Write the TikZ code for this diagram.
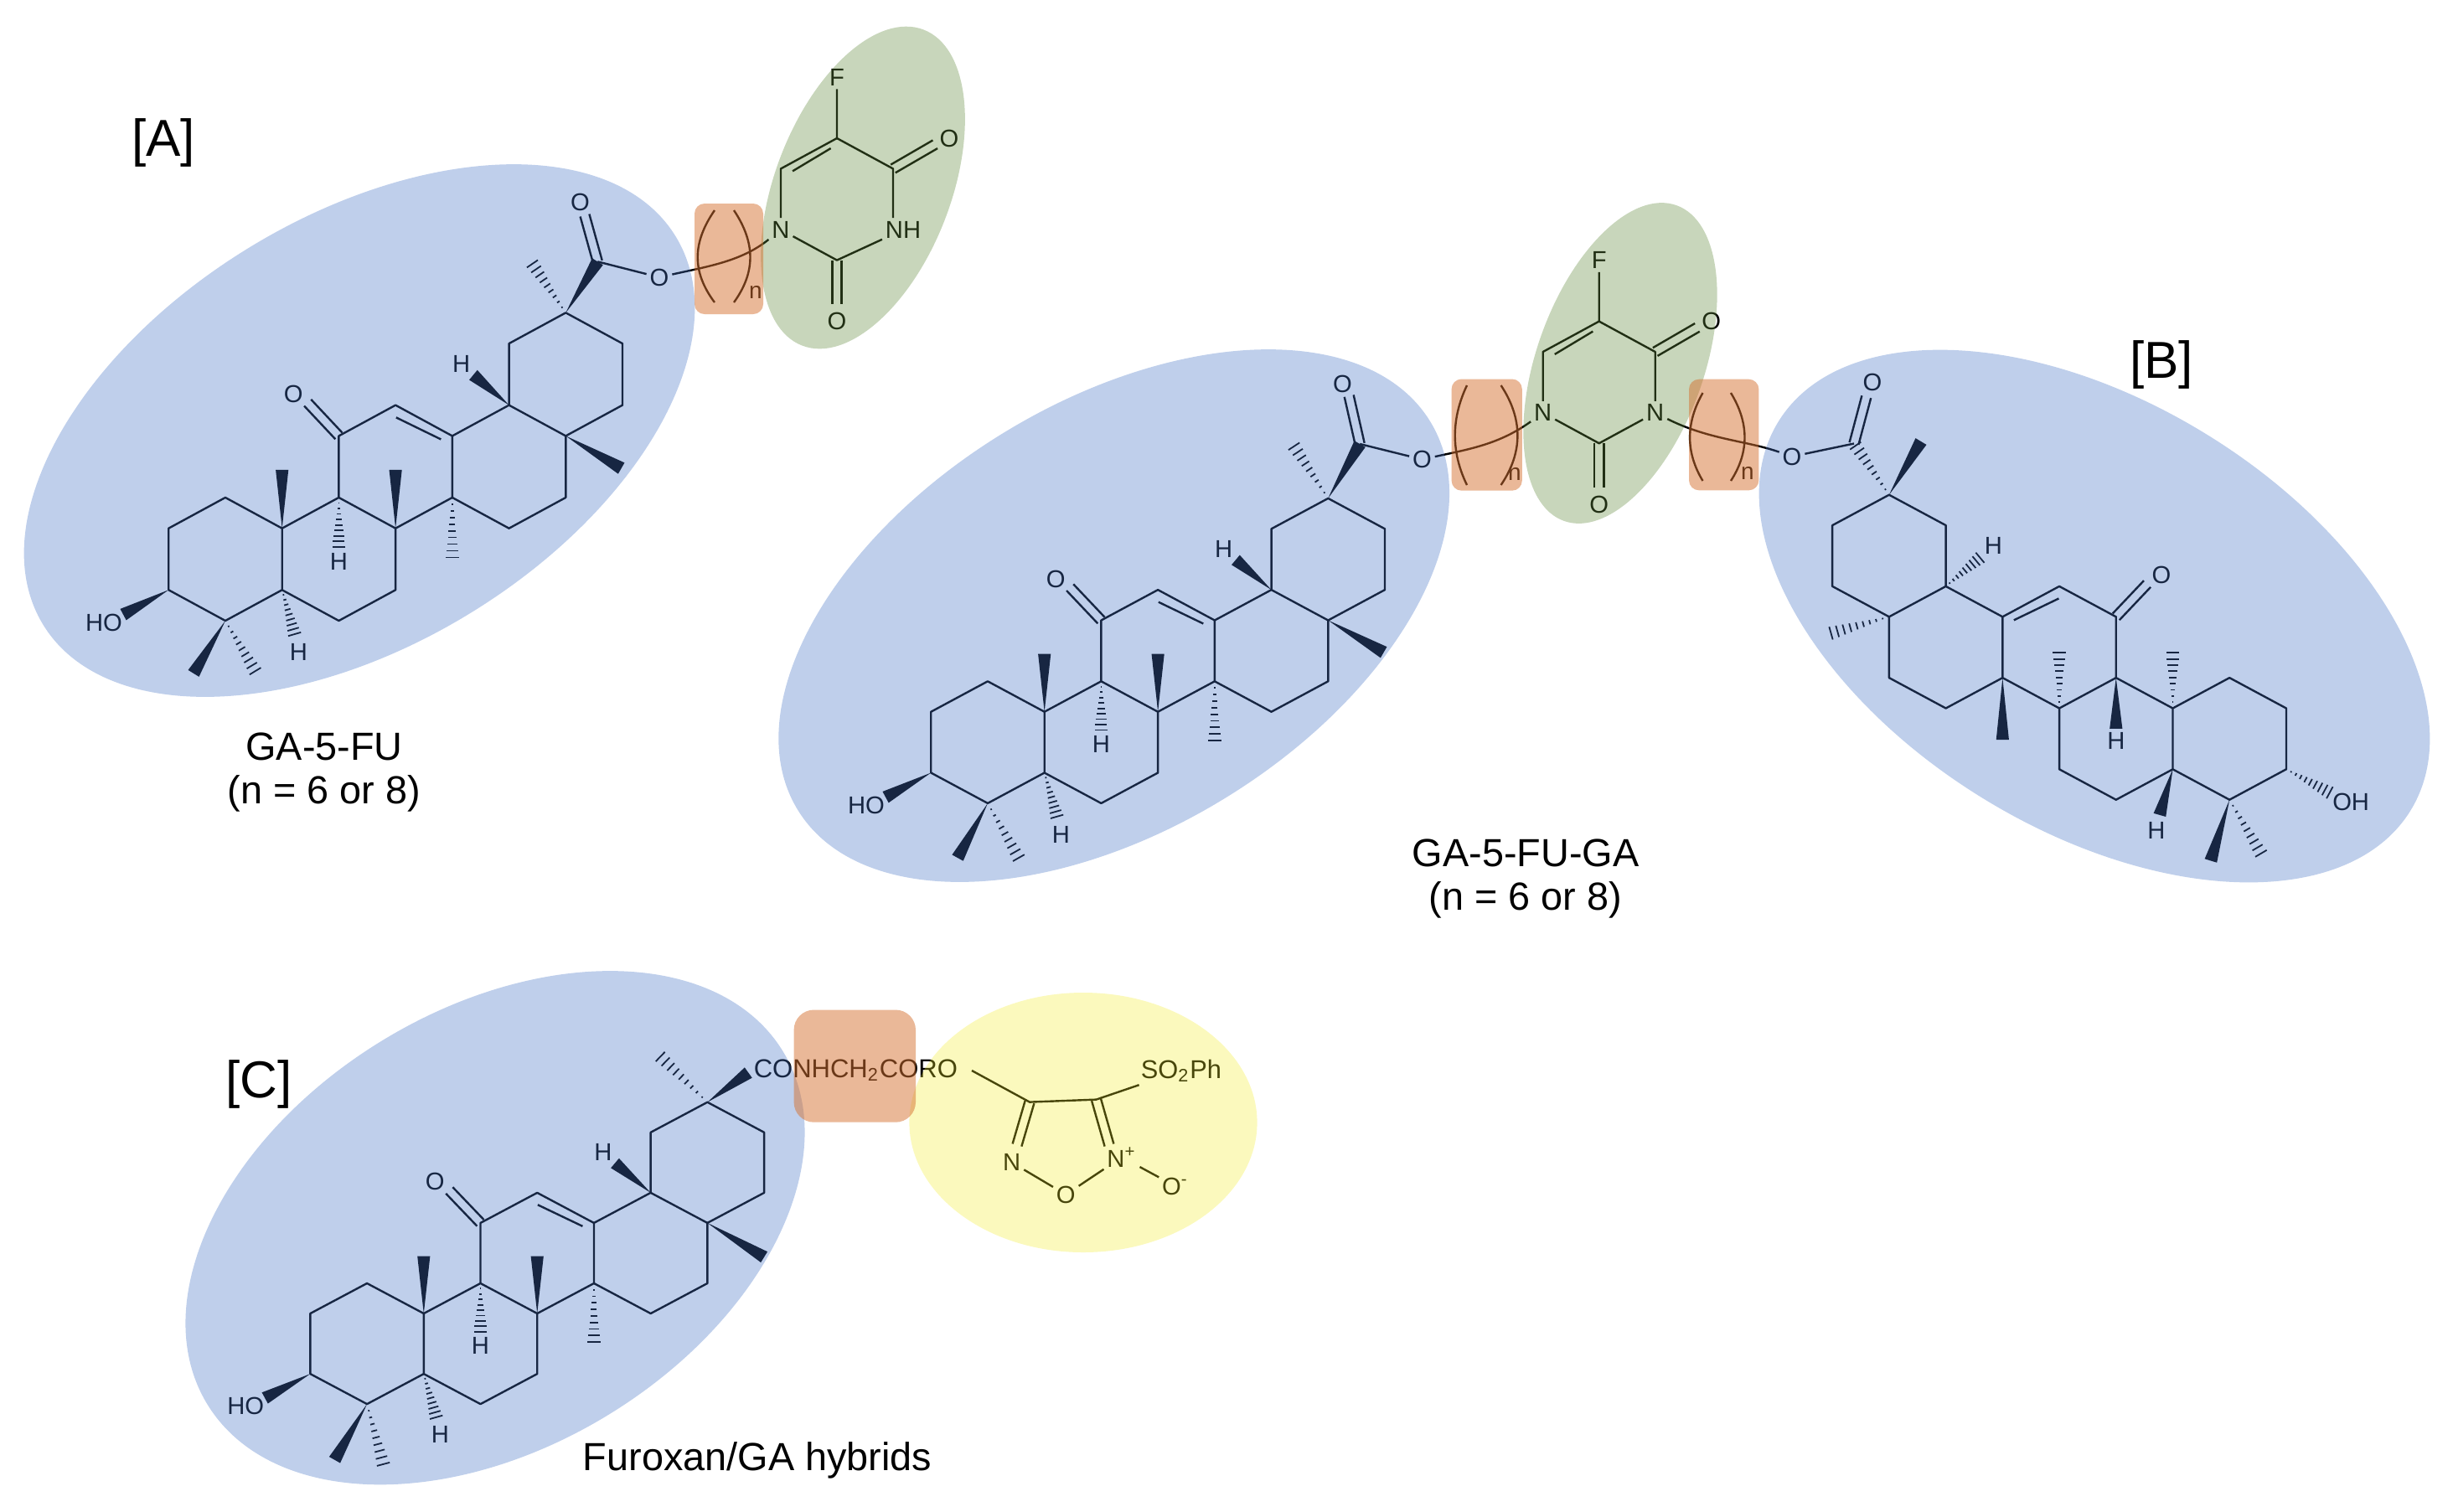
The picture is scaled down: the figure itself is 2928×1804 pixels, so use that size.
\documentclass[tikz,border=0pt]{standalone}
\usepackage{fontspec}
\setmainfont{Liberation Sans}
\usetikzlibrary{calc}
\definecolor{blueblob}{RGB}{68,114,196}
\definecolor{greenblob}{RGB}{97,137,60}
\definecolor{orangeblob}{RGB}{213,113,49}
\definecolor{yellowblob}{RGB}{241,235,38}
% wedge, hashed wedge and double bond
\newcommand{\solidb}[2]{\fill (#1) -- ($(#2)!1.9pt!90:(#1)$) -- ($(#2)!1.9pt!-90:(#1)$) -- cycle;}
\newcommand{\hashb}[2]{\foreach \hs [evaluate=\hs as \hw using \hs*0.22] in {1,...,9}
  \draw[line width=.45pt] ($(#1)!\hs/9.4!(#2)!\hw pt!90:(#2)$) -- ($(#1)!\hs/9.4!(#2)!\hw pt!-90:(#2)$);}
\newcommand{\dblb}[2]{\draw[bond] ($(#1)!1.4pt!90:(#2)$) -- ($(#2)!1.4pt!-90:(#1)$);
  \draw[bond] ($(#1)!1.4pt!-90:(#2)$) -- ($(#2)!1.4pt!90:(#1)$);}
% the five rings: prefix, place, scope options, up bond, down bond, hydroxyl,
% end of methyl on c17, ends of the two methyls on c4
\newcommand{\gacore}[9]{%
\begin{scope}[shift={(#2)},x=16.93pt,y=-9.1pt,#3]
\foreach \nm/\u/\v in {c10/0/0,c1/-1/-1,c2/-2/0,c3/-2/2,c4/-1/3,c5/0/2,c6/1/3,c7/2/2,c8/2/0,c9/1/-1,
  c11/1/-3,c12/2/-4,c13/3/-3,c14/3/-1,c15/4/0,c16/5/-1,c17/5/-3,c18/4/-4,c19/4/-6,c20/5/-7,c21/6/-6,c22/6/-4}
  \coordinate (#1\nm) at (\u,\v);
\draw[bond] (#1c10) -- (#1c1) -- (#1c2) -- (#1c3) -- (#1c4) -- (#1c5) -- cycle;
\draw[bond] (#1c10) -- (#1c9) -- (#1c8) -- (#1c7) -- (#1c6) -- (#1c5);
\draw[bond] (#1c9) -- (#1c11) -- (#1c12) -- (#1c13) -- (#1c14) -- (#1c8);
\draw[bond] (#1c13) -- (#1c18) -- (#1c17) -- (#1c16) -- (#1c15) -- (#1c14);
\draw[bond] (#1c18) -- (#1c19) -- (#1c20) -- (#1c21) -- (#1c22) -- (#1c17);
\draw[bond] (2.01,-3.6) -- (2.8,-2.89);
\coordinate (#1ket) at (.45,-4.08);
\dblb{#1c11}{#1ket}
\node[atom] (#1ko) at (.2,-4.36) {O};
#4{#1c10}{0,-1.9}
#4{#1c8}{2,-1.9}
#5{#1c14}{3,1.03}
#5{#1c9}{1,.67}
\node[atom] (#1h9) at (1,1.07) {H};
#5{#1c5}{.23,3.5}
\node[atom] (#1h5) at (.29,4.02) {H};
\solidb{#1c4}{#8}
\hashb{#1c4}{#9}
#4{#1c3}{-2.8,2.8}
\node[atom] (#1oh) at (-3.14,3.07) {#6};
#4{#1c18}{3.37,-4.98}
\node[atom] (#1h18) at (3.16,-5.34) {H};
#4{#1c17}{#7}
\end{scope}}
% fluorouracil: prefix, place, label and x of the second nitrogen
\newcommand{\fluoro}[4]{%
\begin{scope}[shift={(#2)},x=16.75pt,y=-9.1pt]
\foreach \nm/\u/\v in {c5/0/0,c6/-1/1,c4/1/1,c2/0/4,eo4/1.75/.2,eo2/0/5.45}
  \coordinate (#1\nm) at (\u,\v);
\node[atom] (#1f) at (0,-2) {F};
\node[atom] (#1n1) at (-1,3) {N};
\node[atom] (#1n3) at (#4,3) {#3};
\node[atom] (#1o4) at (2,0) {O};
\node[atom] (#1o2) at (0,6) {O};
\draw[bond] (#1f) -- (#1c5) -- (#1c4) -- (#1c4 |- #1n3.north);
\draw[bond] (#1c5) -- (#1c6) -- (#1n1) -- (#1c2) -- (#1n3);
\draw[bond] (-.79,1.08) -- (-.11,.33);
\dblb{#1c4}{#1eo4}
\dblb{#1c2}{#1eo2}
\end{scope}}
\begin{document}
\begin{tikzpicture}[x=0.25pt,y=-0.25pt]
\tikzstyle{bond}=[line width=.6pt,line join=round]
\tikzstyle{atom}=[inner sep=.8pt,font=\fontsize{7.3}{8}\selectfont]
\tikzstyle{small}=[inner sep=0pt,font=\fontsize{7}{8}\selectfont]
\tikzstyle{caption}=[align=center,font=\fontsize{11.7}{13}\selectfont]
\tikzstyle{tag}=[font=\fontsize{15.5}{18}\selectfont]
\tikzstyle{blueshape}=[fill=blueblob,fill opacity=.34]
\tikzstyle{greenshape}=[fill=greenblob,fill opacity=.35]
\tikzstyle{linkbox}=[fill=orangeblob,fill opacity=.5,rounded corners=3pt]
\useasboundingbox (0,0) rectangle (2928,1804);

% [A]
\gacore{a}{336.7,630.7}{yscale=1.01}{\solidb}{\hashb}{HO}{5.98,-1.95}{-1.56,4.71}{-.45,4.71}
\fluoro{a}{999,165}{NH}{1.18}
\coordinate (acoo) at (713.3,312.3);
\coordinate (aeo) at (698,257);
\node[atom] (ao) at (692.6,241.9) {O};
\node[atom] (aes) at (787,331) {O};
\solidb{ac20}{acoo}
\hashb{ac20}{633.7,312.3}
\dblb{acoo}{aeo}
\draw[bond] (acoo) -- (aes);
\draw[bond] (aes) .. controls (845,318) and (885,312) .. (an1);
\draw[bond] (853,251) .. controls (826,290) and (826,325) .. (853,361);
\draw[bond] (876,251) .. controls (902,290) and (902,325) .. (876,361);
\node[small] (an) at (902,349) {n};

% [B]
\gacore{b}{1246.7,849.7}{}{\solidb}{\hashb}{HO}{5.98,-1.95}{-1.53,4.79}{-.43,4.87}
\fluoro{f}{1908.7,383.6}{N}{1}
\gacore{r}{2593.5,845.5}{xscale=-1}{\hashb}{\solidb}{OH}{6.07,-2.44}{-.67,5}{-1.58,4.84}
\coordinate (bcoo) at (1623.2,530);
\coordinate (beo) at (1610.2,472.6);
\node[atom] (bo) at (1602.5,458.2) {O};
\node[atom] (bes) at (1697.4,548.4) {O};
\solidb{bc20}{bcoo}
\hashb{bc20}{1542.8,530}
\dblb{bcoo}{beo}
\draw[bond] (bcoo) -- (bes);
\draw[bond] (bes) .. controls (1755,536) and (1790,530) .. (fn1);
\draw[bond] (1751,460) .. controls (1732,500) and (1732,540) .. (1751,579);
\draw[bond] (1791.6,460) .. controls (1818,500) and (1818,540) .. (1791.6,579);
\node[small] (bn) at (1808,566) {n};
\coordinate (rcoo) at (2213,529.5);
\coordinate (reo) at (2227.8,473.7);
\node[atom] (ro) at (2235,456) {O};
\node[atom] (res) at (2139,545) {O};
\hashb{rc20}{rcoo}
\solidb{rc20}{2293,527}
\dblb{rcoo}{reo}
\draw[bond] (rcoo) -- (res);
\draw[bond] (fn3) .. controls (2040,525) and (2085,526) .. (res);
\draw[bond] (2032.5,469) .. controls (2012,505) and (2012,540) .. (2032.5,574);
\draw[bond] (2066,469) .. controls (2088,505) and (2088,540) .. (2066,574);
\node[small] (rn) at (2086,565) {n};

% [C]
\gacore{c}{505.8,1568}{yscale=.99}{\solidb}{\hashb}{HO}{6,-1.87}{-1.57,4.85}{-.7,5.08}
\solidb{cc20}{893.3,1280.5}
\hashb{cc20}{785.7,1259}
\node[atom,anchor=west,inner sep=0pt,font=\fontsize{7.75}{9}\selectfont] (clink) at (899,1278) {CONHCH\textsubscript{2}CORO};
\coordinate (fc3) at (1229,1315.6);
\coordinate (fc4) at (1308.5,1312.6);
\coordinate (fen) at (1214,1367);
\coordinate (fep) at (1324,1367);
\coordinate (fme) at (1160,1278);
\node[atom] (fn) at (1207.7,1387.7) {N};
\node[atom] (fp) at (1339,1381.4) {N\textsuperscript{+}};
\node[atom] (fo) at (1272.3,1426) {O};
\node[atom] (fm) at (1403,1416) {O\textsuperscript{-}};
\node[atom,font=\fontsize{7.7}{9}\selectfont] (fs) at (1410,1278) {SO\textsubscript{2}Ph};
\draw[bond] (fme) -- (fc3) -- (fc4) -- (fs);
\dblb{fc3}{fen}
\dblb{fc4}{fep}
\draw[bond] (fn) -- (fo) -- (fp);
\draw[bond] (fp) -- (fm);

% captions
\node[tag] (taga) at (195,170) {[A]};
\node[tag] (tagb) at (2580,435) {[B]};
\node[tag] (tagc) at (309,1294) {[C]};
\node[caption] (capa) at (387,922) {GA-5-FU\\(n = 6 or 8)};
\node[caption] (capb) at (1821,1049) {GA-5-FU-GA\\(n = 6 or 8)};
\node[caption] (capc) at (904,1743) {Furoxan/GA hybrids};

% coloured shapes on top of the formulas
\fill[blueshape,rotate around={31.6:(429,514)}] (429,514) ellipse [x radius=443,y radius=255];
\fill[blueshape,rotate around={31.6:(1329.7,735)}] (1329.7,735) ellipse [x radius=443,y radius=255];
\fill[blueshape,rotate around={-31.6:(2500,735.5)}] (2500,735.5) ellipse [x radius=443,y radius=255];
\fill[blueshape,rotate around={31.6:(591,1465.7)}] (591,1465.7) ellipse [x radius=403,y radius=261];
\fill[greenshape,rotate around={-21:(1030,224)}] (1030,224) ellipse [x radius=105,y radius=202];
\fill[greenshape,rotate around={-19.6:(1934,433.5)}] (1934,433.5) ellipse [x radius=100,y radius=200];
\fill[fill=yellowblob,fill opacity=.3] (1293,1340) ellipse [x radius=207.6,y radius=155];
\fill[linkbox] (829,243) rectangle (911,375);
\fill[linkbox] (1732.6,452.5) rectangle (1816.8,585.7);
\fill[linkbox] (2016,452.7) rectangle (2099.4,585.3);
\fill[linkbox,rounded corners=6pt] (947.6,1205.5) rectangle (1093,1339.7);
\end{tikzpicture}
\end{document}
